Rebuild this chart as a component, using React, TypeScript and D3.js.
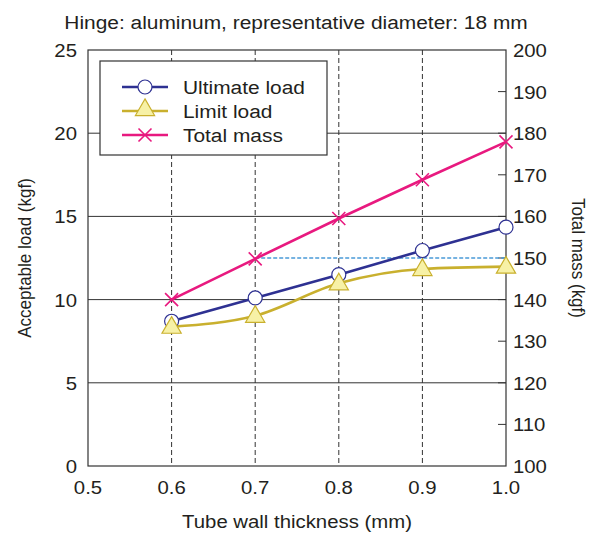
import * as d3 from 'd3';
import React, { useRef, useEffect } from 'react';

const thickness = [0.6, 0.7, 0.8, 0.9, 1.0];
const ultimateLoad = [8.7, 10.1, 11.5, 12.95, 14.35];
const limitLoad = [8.37, 9.03, 10.98, 11.84, 11.98];
const totalMass = [140, 149.8, 159.5, 168.8, 177.9];
const refMass = 150; // dashed reference line
const refFrom = 0.7;

const xTicks = [0.5, 0.6, 0.7, 0.8, 0.9, 1.0];
const loadTicks = [0, 5, 10, 15, 20, 25];
const massTicks = [100, 110, 120, 130, 140, 150, 160, 170, 180, 190, 200];

const W = 596, H = 535;
const margin = { top: 50, right: 90, bottom: 69, left: 88 };
const font = '"Liberation Sans", Arial, Helvetica, sans-serif';
const ink = '#231f20';
const stretch = 1.1; // reference text is a bit wide

const BLUE = '#2e3192';
const GOLD = '#c9b02e';
const PINK = '#e8197f';

function App() {
  const ref = useRef<SVGSVGElement>(null);

  useEffect(() => {
    const svg = d3.select(ref.current);
    svg.selectAll('*').remove();

    // text helper: places text at (x,y), with optional rotation; sx/sy scale in the text's own frame
    const label = (parent: any, px: number, py: number, txt: string, anchor: string, size: number,
      rot = 0, sx = stretch, sy = 1) => {
      parent.append('g')
        .attr('transform', `translate(${px},${py}) rotate(${rot}) scale(${sx},${sy})`)
        .append('text')
        .attr('text-anchor', anchor)
        .attr('font-family', font).attr('font-size', size).attr('fill', ink)
        .text(txt);
    };

    const w = W - margin.left - margin.right;
    const h = H - margin.top - margin.bottom;

    const x = d3.scaleLinear().domain([0.5, 1.0]).range([0, w]);
    const y = d3.scaleLinear().domain([0, 25]).range([h, 0]);
    const y2 = d3.scaleLinear().domain([100, 200]).range([h, 0]);

    label(svg, W / 2 - 2, 29, 'Hinge: aluminum, representative diameter: 18 mm', 'middle', 19);

    const g = svg.append('g').attr('transform', `translate(${margin.left},${margin.top})`);

    // horizontal grid
    g.selectAll('.hgrid').data(loadTicks.slice(1, -1)).enter().append('line')
      .attr('x1', 0).attr('x2', w)
      .attr('y1', d => y(d)).attr('y2', d => y(d))
      .attr('stroke', '#333').attr('stroke-width', 1);

    // vertical dashed grid
    g.selectAll('.vgrid').data(xTicks.slice(1, -1)).enter().append('line')
      .attr('x1', d => x(d)).attr('x2', d => x(d))
      .attr('y1', 0).attr('y2', h)
      .attr('stroke', '#333').attr('stroke-width', 1).attr('stroke-dasharray', '5,3');

    // right axis inner ticks
    g.selectAll('.rtick').data(massTicks.slice(1, -1)).enter().append('line')
      .attr('x1', w - 8).attr('x2', w)
      .attr('y1', d => y2(d)).attr('y2', d => y2(d))
      .attr('stroke', '#333').attr('stroke-width', 1);

    // frame
    g.append('rect').attr('width', w).attr('height', h)
      .attr('fill', 'none').attr('stroke', '#333').attr('stroke-width', 1.2);

    // tick labels
    xTicks.forEach(t => label(g, x(t), h + 28, t.toFixed(1), 'middle', 18.5));
    loadTicks.forEach(t => label(g, -11, y(t) + 7, String(t), 'end', 18.5));
    massTicks.forEach(t => label(g, w + 7, y2(t) + 7, String(t), 'start', 18.5));

    // axis titles
    label(svg, margin.left + w / 2, 528, 'Tube wall thickness (mm)', 'middle', 18.5);
    label(svg, 31, margin.top + h / 2, 'Acceptable load (kgf)', 'middle', 17, -90, 1, stretch);
    label(svg, 572, margin.top + h / 2, 'Total mass (kgf)', 'middle', 17, 90, 1, stretch);

    // reference dashed line
    g.append('line')
      .attr('x1', x(refFrom)).attr('x2', x(1.0))
      .attr('y1', y2(refMass)).attr('y2', y2(refMass))
      .attr('stroke', '#4a9ad8').attr('stroke-width', 1.3).attr('stroke-dasharray', '4,2');

    const ult = thickness.map((t, i) => [t, ultimateLoad[i]] as [number, number]);
    const lim = thickness.map((t, i) => [t, limitLoad[i]] as [number, number]);
    const mass = thickness.map((t, i) => [t, totalMass[i]] as [number, number]);

    const lineL = d3.line<[number, number]>().x(d => x(d[0])).y(d => y(d[1]));
    const lineLsmooth = d3.line<[number, number]>().x(d => x(d[0])).y(d => y(d[1])).curve(d3.curveMonotoneX);
    const lineM = d3.line<[number, number]>().x(d => x(d[0])).y(d => y2(d[1]));

    g.append('path').attr('d', lineLsmooth(lim)).attr('fill', 'none')
      .attr('stroke', GOLD).attr('stroke-width', 2.6);
    g.append('path').attr('d', lineL(ult)).attr('fill', 'none')
      .attr('stroke', BLUE).attr('stroke-width', 2.6);
    g.append('path').attr('d', lineM(mass)).attr('fill', 'none')
      .attr('stroke', PINK).attr('stroke-width', 2.6);

    const tri = d3.symbol().type(d3.symbolTriangle).size(160);
    const cross = (s: number) => `M${-s},${-s}L${s},${s}M${-s},${s}L${s},${-s}`;

    g.selectAll('.um').data(ult).enter().append('circle')
      .attr('cx', d => x(d[0])).attr('cy', d => y(d[1])).attr('r', 7)
      .attr('fill', '#fff').attr('stroke', BLUE).attr('stroke-width', 1.2);
    g.selectAll('.lm').data(lim).enter().append('path')
      .attr('d', tri()).attr('transform', d => `translate(${x(d[0])},${y(d[1]) + 1})`)
      .attr('fill', '#f7f1a6').attr('stroke', GOLD).attr('stroke-width', 1.2);
    g.selectAll('.mm').data(mass).enter().append('path')
      .attr('d', cross(6.5)).attr('transform', d => `translate(${x(d[0])},${y2(d[1])})`)
      .attr('fill', 'none').attr('stroke', PINK).attr('stroke-width', 1.6);

    // legend
    const lg = svg.append('g').attr('transform', 'translate(100,61)');
    lg.append('rect').attr('width', 227).attr('height', 94)
      .attr('fill', '#fff').attr('stroke', '#333').attr('stroke-width', 1.2);
    const items = [
      { label: 'Ultimate load', color: BLUE, kind: 'circle' },
      { label: 'Limit load', color: GOLD, kind: 'tri' },
      { label: 'Total mass', color: PINK, kind: 'cross' },
    ];
    items.forEach((it, i) => {
      const cy = 26 + i * 24;
      lg.append('line').attr('x1', 22).attr('x2', 68).attr('y1', cy).attr('y2', cy)
        .attr('stroke', it.color).attr('stroke-width', 2.6);
      if (it.kind === 'circle') {
        lg.append('circle').attr('cx', 45).attr('cy', cy).attr('r', 7)
          .attr('fill', '#fff').attr('stroke', BLUE).attr('stroke-width', 1.2);
      } else if (it.kind === 'tri') {
        lg.append('path').attr('d', tri()).attr('transform', `translate(45,${cy - 1})`)
          .attr('fill', '#f7f1a6').attr('stroke', GOLD).attr('stroke-width', 1.2);
      } else {
        lg.append('path').attr('d', cross(6.5)).attr('transform', `translate(45,${cy})`)
          .attr('fill', 'none').attr('stroke', PINK).attr('stroke-width', 1.6);
      }
      label(lg, 83, cy + 7, it.label, 'start', 19);
    });
  }, []);

  return (
    <svg ref={ref} width={W} height={H}
      style={{ position: 'absolute', left: 0, top: 0, background: '#fff' }} />
  );
}

export default App;
